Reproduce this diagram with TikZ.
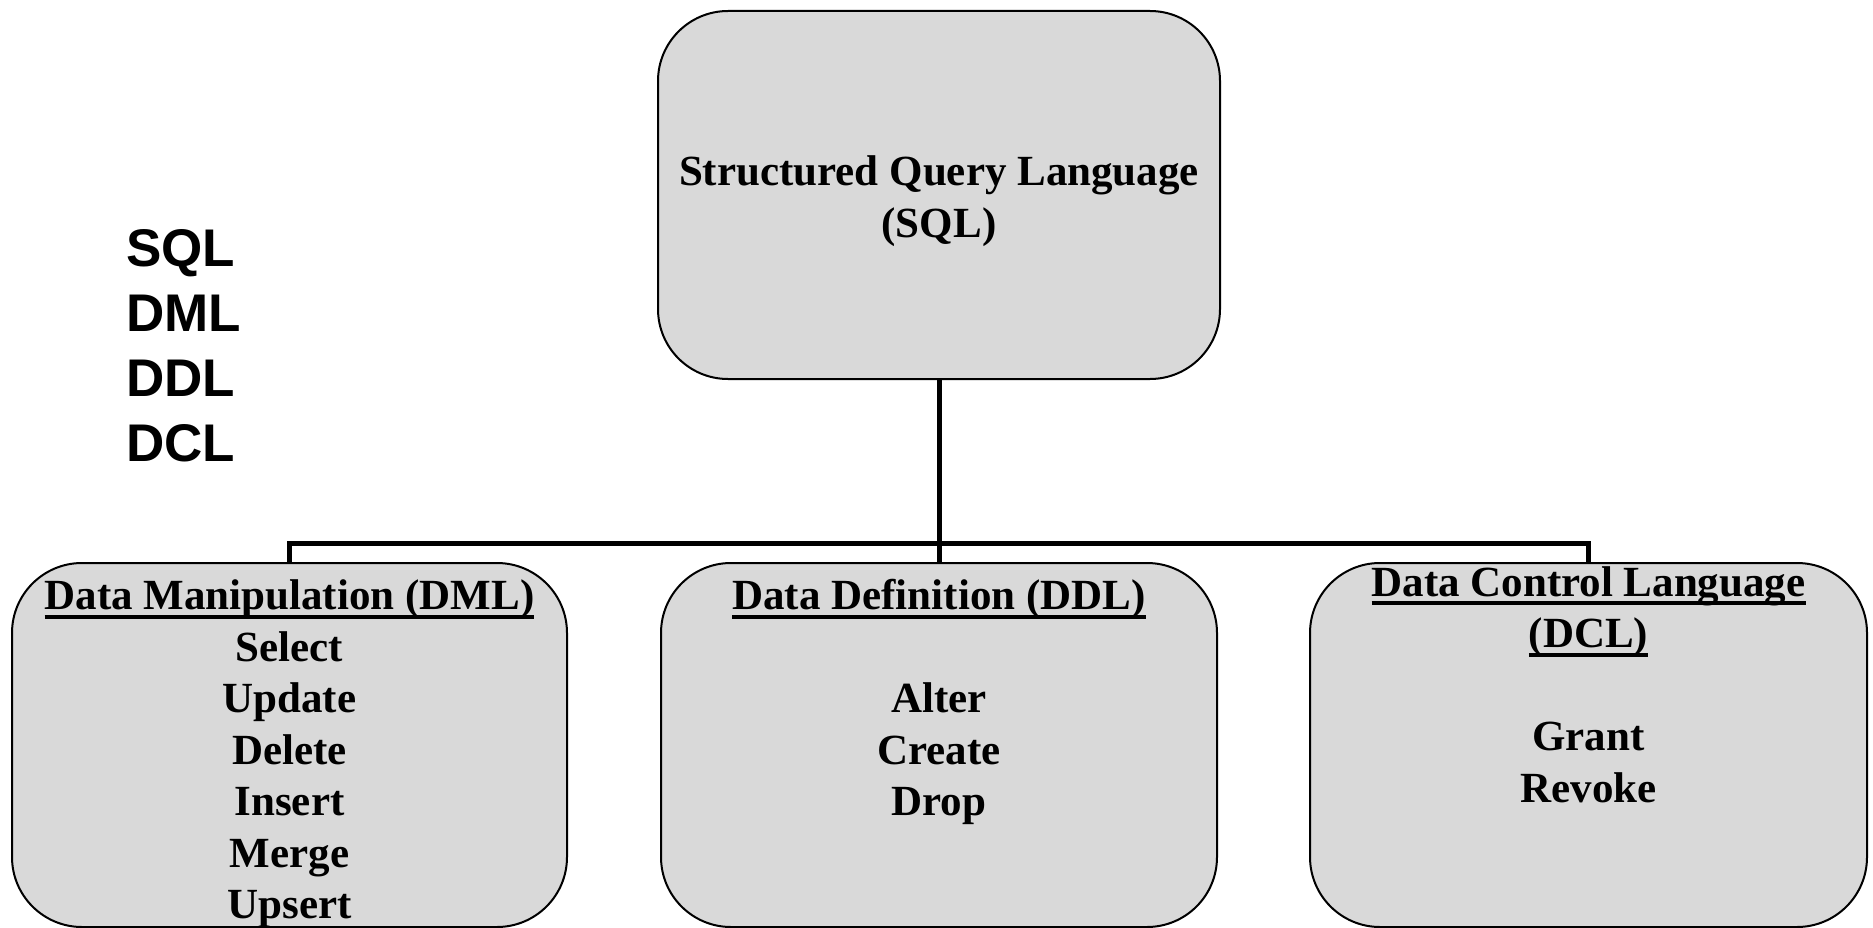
\documentclass[tikz,border=0pt]{standalone}
\usepackage{fontspec}
\setmainfont{Liberation Serif}
\newfontfamily\labelfont{Liberation Sans}
\usetikzlibrary{positioning}
\definecolor{boxgray}{HTML}{D9D9D9}
\newsavebox{\headbox}
\newcommand{\headline}[1]{\sbox{\headbox}{#1}\rlap{\rule[-9pt]{\wd\headbox}{4pt}}\usebox{\headbox}}
\tikzset{%
  langbox/.style={draw=black, line width=2pt, fill=boxgray, rounded corners=70pt, inner sep=0pt},
  boxtext/.style={align=center, inner sep=0pt, font=\fontsize{43}{51.5}\selectfont\bfseries},
  branch/.style={line width=5pt}
}

\begin{document}
\begin{tikzpicture}[x=1pt, y=-1pt]
    \useasboundingbox (0,0) rectangle (1873,928);

      \node[langbox, minimum width=562pt, minimum height=368pt] (sql) at (939,195) {};
      \node[boxtext] (sqltext) at (939,201) {Structured Query Language\\(SQL)};
      \node[langbox, minimum width=555pt, minimum height=364pt] (dml) at (289.5,745) {};
      \node[langbox, minimum width=556pt, minimum height=364pt] (ddl) at (939,745) {};
      \node[langbox, minimum width=557pt, minimum height=364pt] (dcl) at (1588.5,745) {};

      \node[boxtext, below=17.5pt of dml.north] (dmltext) {\headline{Data Manipulation (DML)}\\Select\\Update\\Delete\\Insert\\Merge\\Upsert};
      \node[boxtext, below=17.5pt of ddl.north] (ddltext) {\headline{Data Definition (DDL)}\\[51.5pt]Alter\\Create\\Drop};
      \node[boxtext, below=4pt of dcl.north] (dcltext) {\headline{Data Control Language}\\\headline{(DCL)}\\[51.5pt]Grant\\Revoke};

      \coordinate (bus) at ([yshift=-163pt]sql.south);
      \draw[branch] (sql.south) -- (bus);
      \draw[branch] (dml.north) |- (bus) -| (dcl.north);
      \draw[branch] (bus) -- (ddl.north);

      \node[align=left, anchor=north west, inner sep=0pt, font=\labelfont\bfseries\fontsize{53}{65}\selectfont] (abbr) at (126,229) {SQL\\DML\\DDL\\DCL};

  \end{tikzpicture}
\end{document}
